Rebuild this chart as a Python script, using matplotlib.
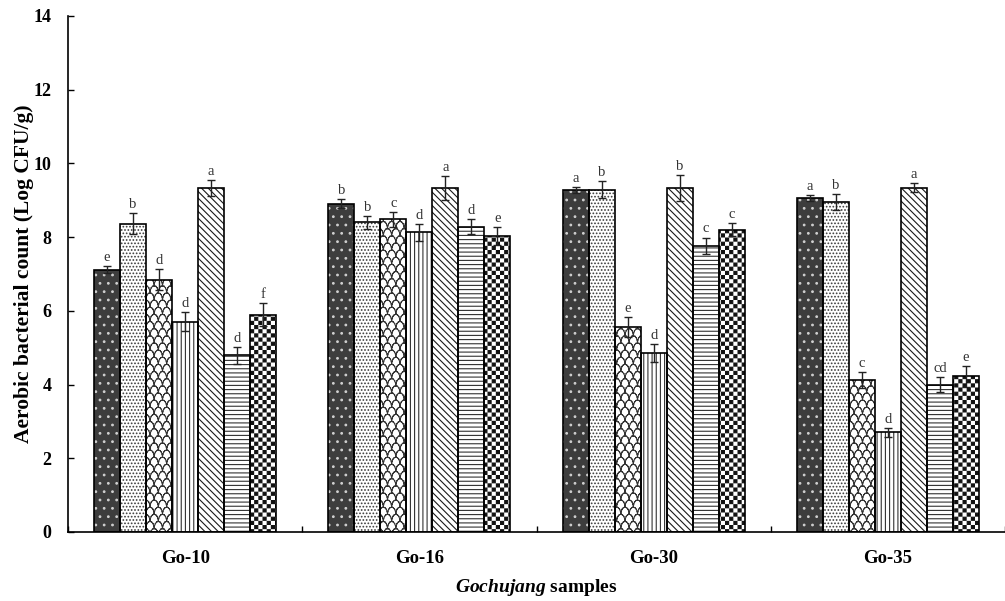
import warnings
warnings.filterwarnings('ignore')
import numpy as np
import matplotlib
matplotlib.use('Agg')
import matplotlib.pyplot as plt
import matplotlib.hatch as mhatch
from matplotlib.path import Path

# ---------------- data ----------------
samples = ['Go-10', 'Go-16', 'Go-30', 'Go-35']
values = [
    [7.12, 8.91, 9.29, 9.06],
    [8.37, 8.40, 9.29, 8.95],
    [6.85, 8.48, 5.55, 4.12],
    [5.71, 8.13, 4.85, 2.71],
    [9.34, 9.34, 9.34, 9.34],
    [4.79, 8.28, 7.77, 4.00],
    [5.90, 8.04, 8.20, 4.22],
]
errors = [
    [0.10, 0.13, 0.08, 0.09],
    [0.29, 0.17, 0.22, 0.22],
    [0.29, 0.21, 0.27, 0.22],
    [0.25, 0.23, 0.24, 0.12],
    [0.22, 0.33, 0.35, 0.12],
    [0.22, 0.20, 0.22, 0.20],
    [0.30, 0.24, 0.18, 0.28],
]
letters = [
    ['e', 'b', 'a', 'a'],
    ['b', 'b', 'b', 'b'],
    ['d', 'c', 'e', 'c'],
    ['d', 'd', 'd', 'd'],
    ['a', 'a', 'b', 'a'],
    ['d', 'd', 'c', 'cd'],
    ['f', 'e', 'c', 'e'],
]
yticks = [0, 2, 4, 6, 8, 10, 12, 14]

plt.rcParams['hatch.linewidth'] = 0.8
LW_UNIT = 0.8 / 72.0  # hatch stroke in hatch-tile units (tile = 1 inch)


class CheckerHatch(mhatch.HatchPatternBase):
    """Filled checkerboard, triggered by 'c'."""
    def __init__(self, hatch, density):
        n = hatch.count('c') * density
        if n % 2:
            n += 1
        self.n = n
        self.num_vertices = (n * n // 2) * 5 if n else 0

    def set_vertices_and_codes(self, vertices, codes):
        n = self.n
        s = 1.0 / n
        ins = LW_UNIT / 2.0
        sq = np.array([[ins, ins], [s - ins, ins], [s - ins, s - ins],
                       [ins, s - ins], [ins, ins]])
        verts, cds = [], []
        for i in range(n):
            for j in range(n):
                if (i + j) % 2 == 0:
                    verts.append(sq + [i * s, j * s])
                    cds.append([Path.MOVETO, Path.LINETO, Path.LINETO,
                                Path.LINETO, Path.CLOSEPOLY])
        vertices[:] = np.concatenate(verts)
        codes[:] = np.concatenate(cds)


class ScaleHatch(mhatch.HatchPatternBase):
    """Fish-scale / wavy net, triggered by 's'."""
    def __init__(self, hatch, density):
        n = hatch.count('s') * density
        if n % 2:
            n += 1
        self.n = n
        self.nrows = n + 2  # rows per unit (even)
        self.npts = 9
        if n:
            self.rows = list(range(-2, self.nrows + 2))
            self.cols = list(range(-1, n + 2))
            self.num_vertices = (len(self.rows) * len(self.cols)
                                 * (self.npts - 1) * 2)
        else:
            self.num_vertices = 0

    def set_vertices_and_codes(self, vertices, codes):
        n = self.n
        w = 1.0 / n
        h = 1.0 / self.nrows
        t = np.linspace(0, np.pi, self.npts)
        arc = np.column_stack([0.5 * w * np.cos(t), h * np.sin(t)])
        segs = []
        for r in self.rows:
            shift = (r % 2) * w / 2
            for k in self.cols:
                p = arc + [k * w + shift, r * h]
                for a in range(self.npts - 1):
                    segs.append(p[a])
                    segs.append(p[a + 1])
        vertices[:] = np.array(segs)
        codes[:] = np.tile([Path.MOVETO, Path.LINETO], len(segs) // 2)


mhatch._hatch_types.extend([CheckerHatch, ScaleHatch])

# per-series style: (facecolor, hatch colour, hatch)
styles = [
    ('#3d3d3d', '#d0d0d0', '..'),
    ('#ffffff', '#3a3a3a', '.....'),
    ('#ffffff', '#333333', 'ss'),
    ('#ffffff', '#333333', '||||'),
    ('#ffffff', '#1a1a1a', '\\\\\\\\\\'),
    ('#ffffff', '#333333', '----'),
    ('#ffffff', '#111111', 'cccc'),
]

serif = ['Liberation Serif', 'DejaVu Serif']
plt.rcParams['font.family'] = serif
plt.rcParams['mathtext.fontset'] = 'custom'
plt.rcParams['mathtext.it'] = 'Liberation Serif:italic:bold'
plt.rcParams['mathtext.rm'] = 'Liberation Serif:bold'

fig = plt.figure(figsize=(10.05, 6.01), dpi=100)
ax = fig.add_axes([68 / 1005, (601 - 532) / 601, 1 - 68 / 1005, (532 - 16) / 601])

x = np.arange(len(samples))
nser = len(values)
bw = 0.111

for i in range(nser):
    fc, hc, h = styles[i]
    xs = x + (i - (nser - 1) / 2) * bw
    ax.bar(xs, values[i], bw, color=fc, edgecolor=hc, hatch=h,
           linewidth=0, zorder=2)
    ax.bar(xs, values[i], bw, fill=False, edgecolor='black',
           linewidth=1.2, zorder=3)
    ax.errorbar(xs, values[i], yerr=errors[i], fmt='none', ecolor='#222222',
                elinewidth=1.0, capsize=3, capthick=1.0, zorder=4)
    for xx, v, e, lab in zip(xs, values[i], errors[i], letters[i]):
        ax.annotate(lab, (xx, v + e), xytext=(0, 1.5),
                    textcoords='offset points', ha='center', va='bottom',
                    fontsize=10.5, color='#333333', zorder=5)

ax.set_xlim(-0.5, len(samples) - 0.5)
ax.set_ylim(0, 14)
ax.set_yticks(yticks)
ax.set_xticks(x)
ax.set_xticklabels(samples)
ax.set_xticks(np.arange(len(samples) + 1) - 0.5, minor=True)

for sp in ['top', 'right']:
    ax.spines[sp].set_visible(False)
for sp in ['left', 'bottom']:
    ax.spines[sp].set_linewidth(1.2)

ax.tick_params(axis='y', direction='in', length=4, width=1.0, pad=12,
               labelsize=13)
ax.tick_params(axis='x', which='major', length=0, pad=13, labelsize=13.5)
ax.tick_params(axis='x', which='minor', direction='in', length=4, width=1.0)
for lab in ax.get_xticklabels() + ax.get_yticklabels():
    lab.set_fontweight('bold')

ax.set_ylabel('Aerobic bacterial count (Log CFU/g)', fontsize=15.5,
              fontweight='bold')
ax.yaxis.set_label_coords(-0.036, 0.5)
ax.set_xlabel(r'$\mathit{Gochujang}$ samples', fontsize=14,
              fontweight='bold')
ax.xaxis.set_label_coords(0.5, -0.087)

fig.savefig('out.png', dpi=100)
